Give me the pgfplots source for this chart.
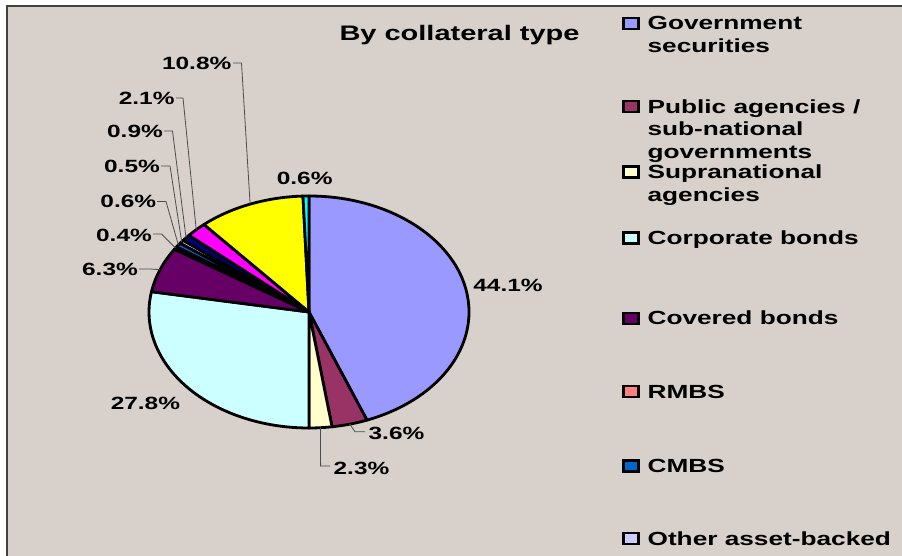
\documentclass[border=0pt]{standalone}
\usepackage{pgfplots}
\pgfplotsset{compat=1.18}
\usepackage{pgfplotstable}
\usepackage{fontspec}
\setmainfont{Liberation Sans}[FakeStretch=1.38]

\definecolor{bg}{HTML}{D8D0CA}
\definecolor{cGov}{HTML}{9999FF}
\definecolor{cPub}{HTML}{993366}
\definecolor{cSup}{HTML}{FFFFCC}
\definecolor{cCorp}{HTML}{CCFFFF}
\definecolor{cCov}{HTML}{660066}
\definecolor{cRmbs}{HTML}{FF8080}
\definecolor{cCmbs}{HTML}{0066CC}
\definecolor{cOab}{HTML}{CCCCFF}
\definecolor{cNavy}{HTML}{000080}
\definecolor{cMag}{HTML}{FF00FF}
\definecolor{cYel}{HTML}{FFFF00}
\definecolor{cCya}{HTML}{00FFFF}

% shares in %, clockwise from 12 o'clock
\pgfplotstableread{
share col
44.1 cGov
3.6  cPub
2.3  cSup
27.8 cCorp
6.3  cCov
0.4  cRmbs
0.6  cCmbs
0.5  cOab
0.9  cNavy
2.1  cMag
10.8 cYel
0.6  cCya
}\piedata

% depth below the baseline kept free under each legend row
\tikzset{ld/.store in=\ldepth, ld=0}
\newcommand\lent[1]{\parbox[t]{270bp}{\raggedright #1}}

\begin{document}
\begin{tikzpicture}[x=1bp,y=1bp]
\fill[white] (0,0) rectangle (902,-556);
\fill[bg] (7,-6) rectangle (902,-556);
\draw[black!75, line width=1.5bp] (7,-556) -- (7,-6) -- (902,-6);

\begin{axis}[
    at={(309bp,-312bp)}, anchor=origin,
    x=160bp, y=116bp,
    xmin=-1, xmax=1, ymin=-1, ymax=1,
    hide axis, clip=false,
    legend image code/.code={%
        \draw[#1] (0bp,1bp) rectangle (15bp,12bp);
        \begin{scope}[#1]\path (0bp,16bp) (0bp,-\ldepth bp);\end{scope}},
    legend style={
        at={(axis description cs:1.4781,1.7918)}, anchor=north west,
        draw=none, fill=none, inner sep=0pt,
        row sep=0pt, column sep=8bp,
        cells={anchor=base west}, nodes={inner sep=0pt},
        font=\fontsize{19bp}{22.5bp}\selectfont\bfseries
    }
]
\def\angA{90}
\pgfplotsforeachungrouped \i in {0,...,11}{%
  \pgfplotstablegetelem{\i}{share}\of\piedata \let\v\pgfplotsretval
  \pgfplotstablegetelem{\i}{col}\of\piedata \let\c\pgfplotsretval
  \pgfmathsetmacro\angB{\angA-3.6*\v}
  \pgfmathsetmacro\xA{cos(\angA)}
  \pgfmathsetmacro\yA{sin(\angA)}
  \pgfmathsetmacro\angM{(\angA+\angB)/2}
  \pgfmathsetmacro\xM{cos(\angM)}
  \pgfmathsetmacro\yM{sin(\angM)}
  \edef\temp{\noexpand\filldraw[fill=\c, draw=black, line width=2.8bp, line join=round]
    (axis cs:0,0) -- (axis cs:\xA,\yA)
    arc[start angle=\angA, end angle=\angB, x radius=160bp, y radius=116bp] -- cycle;
    \noexpand\coordinate (m\i) at (axis cs:\xM,\yM);}
  \temp
  \let\angA\angB
}

\addlegendimage{fill=cGov, draw=black, line width=2.4bp, ld=65}
\addlegendentry{\lent{Government\\securities}}
\addlegendimage{fill=cPub, draw=black, line width=2.4bp, ld=47}
\addlegendentry{\lent{Public agencies /\\sub-national\\governments}}
\addlegendimage{fill=cSup, draw=black, line width=2.4bp, ld=47.5}
\addlegendentry{\lent{Supranational\\agencies}}
\addlegendimage{fill=cCorp, draw=black, line width=2.4bp, ld=62}
\addlegendentry{\lent{Corporate bonds}}
\addlegendimage{fill=cCov, draw=black, line width=2.4bp, ld=55}
\addlegendentry{\lent{Covered bonds}}
\addlegendimage{fill=cRmbs, draw=black, line width=2.4bp, ld=56}
\addlegendentry{\lent{RMBS}}
\addlegendimage{fill=cCmbs, draw=black, line width=2.4bp, ld=54}
\addlegendentry{\lent{CMBS}}
\addlegendimage{fill=cOab, draw=black, line width=2.4bp, ld=3}
\addlegendentry{\lent{Other asset-backed}}
\end{axis}

\node[font=\fontsize{21bp}{24bp}\selectfont\bfseries] at (459.5,-35.5) {By collateral type};

\begin{scope}[font=\fontsize{17.7bp}{20bp}\selectfont\bfseries, inner sep=0pt]
\node at (508,-285) {44.1\%};
\node at (396.5,-433) {3.6\%};
\node at (361.5,-468) {2.3\%};
\node at (145.4,-403) {27.8\%};
\node at (110,-269) {6.3\%};
\node at (124,-235) {0.4\%};
\node at (128.3,-201.5) {0.6\%};
\node at (132,-166) {0.5\%};
\node at (135,-131) {0.9\%};
\node at (146.7,-98) {2.1\%};
\node at (196.7,-63) {10.8\%};
\node at (304.7,-178) {0.6\%};
\end{scope}

\begin{scope}[black!70, line width=0.8bp]
\draw (233,-63) -- (241.5,-63) -- (m10);
\draw (176,-98) -- (183,-98) -- (m9);
\draw (164,-131) -- (172.5,-131) -- (m8);
\draw (161,-166) -- (170,-166) -- (m7);
\draw (157,-201.5) -- (166,-201.5) -- (m6);
\draw (153,-234) -- (161.5,-234) -- (m5);
\draw (139,-269) -- (150,-269) -- (m4);
\draw (m1) -- (355,-431.7) -- (365,-431.7);
\draw (m2) -- (320.6,-466) -- (330,-466);
\end{scope}

\pgfresetboundingbox
\useasboundingbox (0,0) rectangle (902,-556);
\end{tikzpicture}
\end{document}
